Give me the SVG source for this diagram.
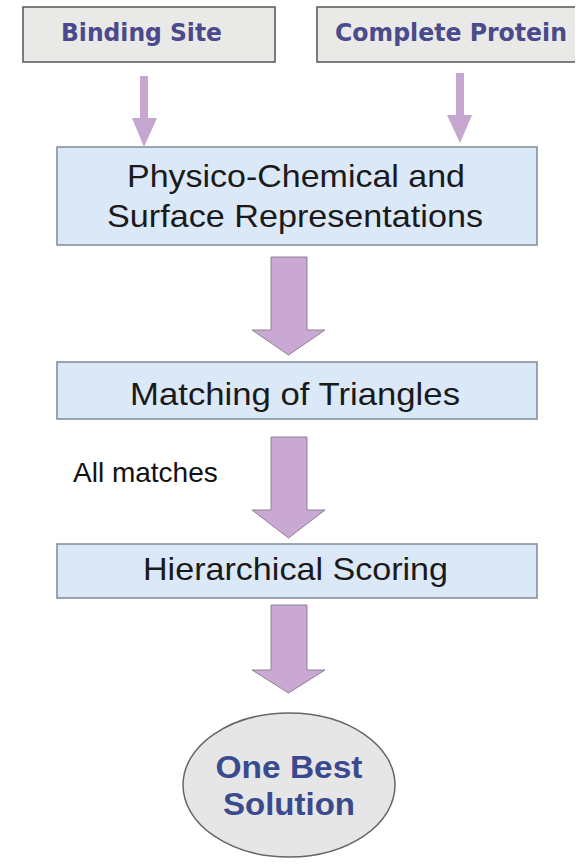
<svg xmlns="http://www.w3.org/2000/svg" width="581" height="864" viewBox="0 0 581 864">
<style>
.gbox{fill:#e9e9e7;stroke:#555;stroke-width:1.5}
.bbox{fill:#dbe8f7;stroke:#7d8a96;stroke-width:1.5}
.ttop{font-family:"DejaVu Sans",Verdana,sans-serif;font-weight:bold;font-size:24px;fill:#4a4a8c}
.tbox{font-family:"Liberation Sans",Arial,sans-serif;font-size:32px;fill:#1a1a1a}
.tlab{font-family:"Liberation Sans",Arial,sans-serif;font-size:28px;fill:#111}
.tell{font-family:"Liberation Sans",Arial,sans-serif;font-weight:bold;font-size:32px;fill:#3a4a8e}
.arr{fill:#c9a8d4;stroke:#8f8096;stroke-width:1}
.sarr{fill:#c4a6d0;stroke:none}
</style>
<rect width="581" height="864" fill="#fff"/>
<g id="binding-site">
<rect class="gbox" x="23" y="7" width="252" height="55"/>
<text class="ttop" x="61" y="41" textLength="161" lengthAdjust="spacingAndGlyphs">Binding Site</text>
</g>
<g id="complete-protein">
<rect x="317" y="7" width="258" height="55" fill="#e9e9e7"/>
<path d="M575 7 H317 V62 H575" fill="none" stroke="#555" stroke-width="1.5"/>
<text class="ttop" x="335" y="41" textLength="232" lengthAdjust="spacingAndGlyphs">Complete Protein</text>
</g>
<g id="representations">
<rect class="bbox" x="57" y="147" width="480" height="98"/>
<text class="tbox" x="127" y="187" textLength="338" lengthAdjust="spacingAndGlyphs">Physico-Chemical and</text>
<text class="tbox" x="107" y="227" textLength="376" lengthAdjust="spacingAndGlyphs">Surface Representations</text>
</g>
<g id="matching">
<rect class="bbox" x="57" y="362" width="480" height="57"/>
<text class="tbox" x="130" y="405" textLength="330" lengthAdjust="spacingAndGlyphs">Matching of Triangles</text>
</g>
<g id="scoring">
<rect class="bbox" x="57" y="544" width="480" height="54"/>
<text class="tbox" x="143" y="580" textLength="305" lengthAdjust="spacingAndGlyphs">Hierarchical Scoring</text>
</g>
<g id="best-solution">
<ellipse cx="289" cy="785" rx="106" ry="72" fill="#e6e6e6" stroke="#666" stroke-width="1.5"/>
<text class="tell" x="289" y="778" text-anchor="middle" textLength="147" lengthAdjust="spacingAndGlyphs">One Best</text>
<text class="tell" x="289" y="815" text-anchor="middle" textLength="132" lengthAdjust="spacingAndGlyphs">Solution</text>
</g>
<g id="connectors">
<path class="sarr" d="M140 76 H148 V118 H157 L144 147 L132 118 H140 Z"/>
<path class="sarr" d="M456 73 H464 V115 H472 L460 143 L447 115 H456 Z"/>
<path class="arr" d="M271 257 H307 V330 H325 L288.5 355 L252 330 H271 Z"/>
<path class="arr" d="M271 437 H307 V510 H325 L288.5 538 L252 510 H271 Z"/>
<text class="tlab" x="73" y="482">All matches</text>
<path class="arr" d="M271 605 H307 V670 H325 L288.5 693 L252 670 H271 Z"/>
</g>
</svg>
